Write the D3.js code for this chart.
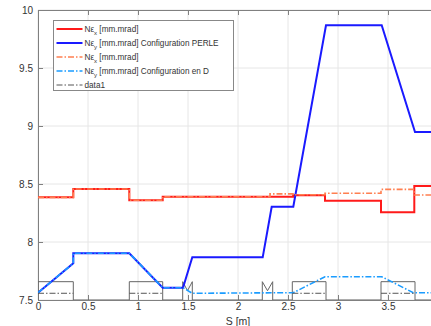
<!DOCTYPE html>
<html>
<head>
<meta charset="utf-8">
<script src="https://cdn.jsdelivr.net/npm/d3@7"></script>
<style>
  html, body { margin: 0; padding: 0; background: #fff; }
  svg { display: block; }
  text { font-family: "Liberation Sans", Arial, Helvetica, sans-serif; }
</style>
</head>
<body>
<script>
// Emittance along the line S [m] for two configurations
const xTicks = [0, 0.5, 1, 1.5, 2, 2.5, 3, 3.5];
const yTicks = [7.5, 8, 8.5, 9, 9.5, 10];
const xTickLabels = ["0", "0.5", "1", "1.5", "2", "2.5", "3", "3.5"];
const yTickLabels = ["7.5", "8", "8.5", "9", "9.5", "10"];

// Nεx, configuration PERLE (stepwise)
const exPerleS = [0, 0.353, 0.913, 1.247, 2.55, 2.87, 3.43, 3.763, 4];
const exPerleV = [8.385, 8.457, 8.36, 8.39, 8.403, 8.356, 8.256, 8.483, 8.483];

// Nεy, configuration PERLE
const eyPerleS = [0, 0.353, 0.353, 0.913, 1.247, 1.45, 1.543, 2.247, 2.337, 2.553, 2.88, 3.437, 3.77, 4];
const eyPerleV = [7.563, 7.816, 7.903, 7.903, 7.606, 7.606, 7.868, 7.868, 8.304, 8.304, 9.868, 9.868, 8.948, 8.948];

// Nεx, configuration en D (stepwise)
const exDS = [0, 0.353, 0.913, 1.247, 2.32, 2.55, 2.87, 3.43, 3.763, 4];
const exDV = [8.385, 8.457, 8.36, 8.39, 8.415, 8.407, 8.42, 8.454, 8.405, 8.405];

// Nεy, configuration en D
const eyDS = [0, 0.353, 0.353, 0.913, 1.247, 1.45, 1.543, 2.553, 2.87, 3.437, 3.753, 4];
const eyDV = [7.563, 7.816, 7.903, 7.903, 7.606, 7.606, 7.558, 7.563, 7.701, 7.701, 7.563, 7.563];

// Element layout: dipoles [start, end] and quadrupoles [start, end]
const dipoles = [[0, 0.353], [0.913, 1.247], [2.543, 2.88], [3.43, 3.77]];
const quads = [[1.447, 1.543], [2.243, 2.347]];
const elementBase = 7.5;
const elementTop = 7.658;
const quadValley = 7.58;
const data1Level = 7.558;

const legendLabels = [
  { sub: "x", rest: " [mm.mrad]" },
  { sub: "y", rest: " [mm.mrad] Configuration PERLE" },
  { sub: "x", rest: " [mm.mrad]" },
  { sub: "y", rest: " [mm.mrad] Configuration en D" },
  { plain: "data1" }
];

const W = 431, H = 326;
const margin = { left: 38, top: 10, bottom: 26 };
const xRange = [margin.left, margin.left + 400];
const yRange = [H - margin.bottom, margin.top];

const x = d3.scaleLinear().domain([0, 4]).range(xRange);
const y = d3.scaleLinear().domain([7.5, 10]).range(yRange);

const svg = d3.select("body").append("svg")
  .attr("width", W).attr("height", H);

svg.append("defs").append("clipPath").attr("id", "plot")
  .append("rect")
  .attr("x", xRange[0]).attr("y", yRange[1])
  .attr("width", xRange[1] - xRange[0]).attr("height", yRange[0] - yRange[1]);

// grid
const grid = svg.append("g");
grid.selectAll("line.gx").data(xTicks).join("line")
  .attr("x1", d => x(d)).attr("x2", d => x(d))
  .attr("y1", yRange[0]).attr("y2", yRange[1])
  .attr("stroke", "#e6e6e6").attr("stroke-width", 1);
grid.selectAll("line.gy").data(yTicks).join("line")
  .attr("x1", xRange[0]).attr("x2", xRange[1])
  .attr("y1", d => y(d)).attr("y2", d => y(d))
  .attr("stroke", "#e6e6e6").attr("stroke-width", 1);

// axes (ticks point inward)
const axisColor = "#808080";
const ax = svg.append("g");
const axBottom = ax.append("g").attr("transform", `translate(0,${yRange[0]})`)
  .call(d3.axisBottom(x).tickValues(xTicks).tickFormat((d, i) => xTickLabels[i]).tickSizeInner(-5).tickSizeOuter(0).tickPadding(3));
const axTop = ax.append("g").attr("transform", `translate(0,${yRange[1]})`)
  .call(d3.axisTop(x).tickValues(xTicks).tickFormat("").tickSizeInner(-5).tickSizeOuter(0));
const axLeft = ax.append("g").attr("transform", `translate(${xRange[0]},0)`)
  .call(d3.axisLeft(y).tickValues(yTicks).tickFormat((d, i) => yTickLabels[i]).tickSizeInner(-5).tickSizeOuter(0).tickPadding(5));
[axBottom, axTop, axLeft].forEach(g => {
  g.select(".domain").attr("stroke", axisColor);
  g.selectAll(".tick line").attr("stroke", axisColor);
  g.selectAll(".tick text").attr("fill", "#333").attr("font-size", 10)
    .attr("font-family", "'Liberation Sans', Arial, sans-serif");
});

svg.append("text")
  .attr("x", x(2)).attr("y", H - 1.5)
  .attr("text-anchor", "middle").attr("font-size", 10.5).attr("fill", "#333")
  .text("S [m]");

const plot = svg.append("g").attr("clip-path", "url(#plot)");

const toPts = (s, v) => s.map((d, i) => [d, v[i]]);
const stepLine = d3.line().x(d => x(d[0])).y(d => y(d[1])).curve(d3.curveStepAfter);
const polyLine = d3.line().x(d => x(d[0])).y(d => y(d[1]));

// element profile (dipole boxes and quadrupole symbols)
const profile = [[0, elementBase]];
const elements = [
  ...dipoles.map(d => ({ type: "dip", a: d[0], b: d[1] })),
  ...quads.map(d => ({ type: "quad", a: d[0], b: d[1] }))
].sort((p, q) => p.a - q.a);
elements.forEach(e => {
  profile.push([e.a, elementBase], [e.a, elementTop]);
  if (e.type === "quad") profile.push([(e.a + e.b) / 2, quadValley]);
  profile.push([e.b, elementTop], [e.b, elementBase]);
});
profile.push([4, elementBase]);

const series = [
  { pts: toPts(exPerleS, exPerleV), line: stepLine, color: "#ff1a1a", width: 2, dash: null },
  { pts: toPts(eyPerleS, eyPerleV), line: polyLine, color: "#1a1aff", width: 2, dash: null },
  { pts: toPts(exDS, exDV), line: stepLine, color: "#ff7f50", width: 1.6, dash: "6,2,1.5,2" },
  { pts: toPts(eyDS, eyDV), line: polyLine, color: "#1a9cff", width: 1.6, dash: "6,2,1.5,2" }
];

plot.append("path").datum(profile)
  .attr("d", polyLine).attr("fill", "none")
  .attr("stroke", "#666").attr("stroke-width", 1);

series.forEach(s => {
  plot.append("path").datum(s.pts)
    .attr("d", s.line).attr("fill", "none")
    .attr("stroke", s.color).attr("stroke-width", s.width)
    .attr("stroke-dasharray", s.dash);
});

// data1: dash-dot level inside the dipoles
dipoles.forEach(d => {
  plot.append("path").datum([[d[0], data1Level], [d[1], data1Level]])
    .attr("d", polyLine).attr("fill", "none")
    .attr("stroke", "#555").attr("stroke-width", 1)
    .attr("stroke-dasharray", "6,2,1.5,2");
});

// legend
const lg = svg.append("g").attr("transform", "translate(53.5,20.5)");
lg.append("rect").attr("width", 180).attr("height", 70)
  .attr("fill", "#fff").attr("stroke", "#888").attr("stroke-width", 1);
const legendStyles = [
  { color: "#ff1a1a", width: 2, dash: null },
  { color: "#1a1aff", width: 2, dash: null },
  { color: "#ff7f50", width: 1.6, dash: "6,2,1.5,2" },
  { color: "#1a9cff", width: 1.6, dash: "6,2,1.5,2" },
  { color: "#555", width: 1, dash: "6,2,1.5,2" }
];
legendLabels.forEach((lab, i) => {
  const yy = 8.5 + i * 14;
  const st = legendStyles[i];
  lg.append("line").attr("x1", 3).attr("x2", 29).attr("y1", yy).attr("y2", yy)
    .attr("stroke", st.color).attr("stroke-width", st.width)
    .attr("stroke-dasharray", st.dash);
  const t = lg.append("text").attr("x", 31).attr("y", yy + 3)
    .attr("font-size", 8.2).attr("fill", "#333");
  if (lab.plain) {
    t.text(lab.plain);
  } else {
    t.append("tspan").text("Nε");
    t.append("tspan").attr("font-size", 6).attr("dy", 2.5).text(lab.sub);
    t.append("tspan").attr("dy", -2.5).text(lab.rest);
  }
});
</script>
</body>
</html>
